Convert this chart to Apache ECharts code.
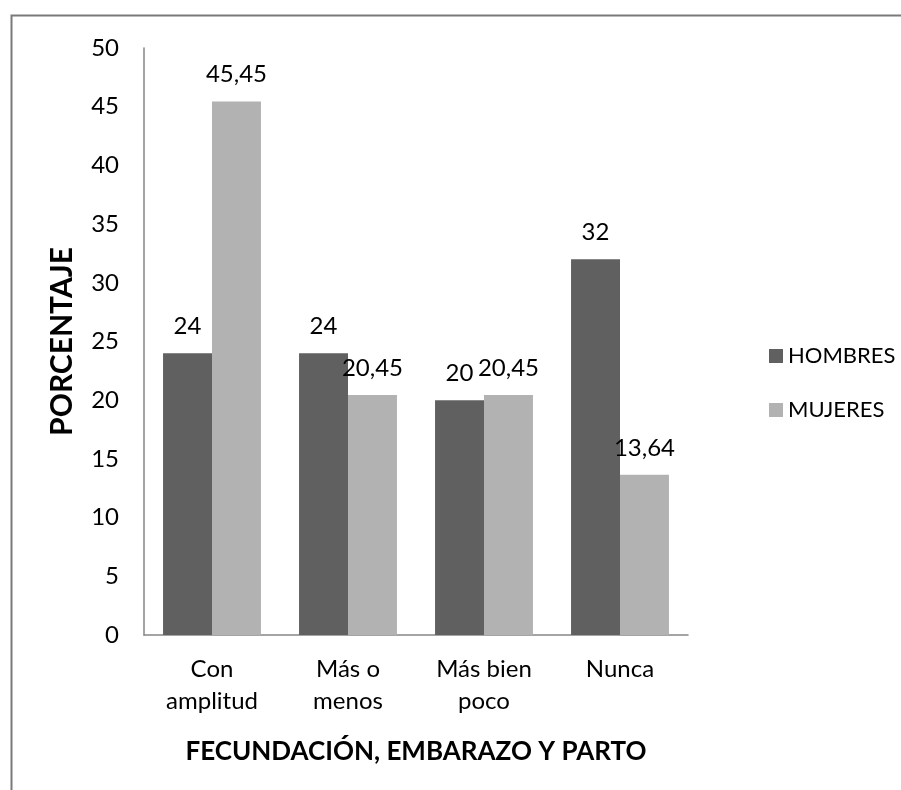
<!DOCTYPE html>
<html>
<head>
<meta charset="utf-8">
<script src="https://cdn.jsdelivr.net/npm/echarts@6/dist/echarts.min.js"></script>
<style>html,body{margin:0;padding:0;background:#fff;}#c{width:901px;height:790px;}</style>
</head>
<body>
<div id="c"></div>
<script>
const categories = ["Con\namplitud", "Más o\nmenos", "Más bien\npoco", "Nunca"];
const hombres = [24, 24, 20, 32];
const mujeres = [45.45, 20.45, 20.45, 13.64];
const seriesNames = ["HOMBRES", "MUJERES"];
const yTicks = { min: 0, max: 50, interval: 5 };

const FONT = 'Lato';
const chart = echarts.init(document.getElementById('c'));
const fmt = p => String(p.value).replace('.', ',');
const labelStyle = { show: true, position: 'top', distance: 15, fontSize: 24, color: '#000', fontFamily: FONT, formatter: fmt };

chart.setOption({
  animation: false,
  textStyle: { fontFamily: FONT },
  graphic: [{
    type: 'rect', left: 9, top: 13, shape: { width: 1000, height: 1000 },
    style: { fill: 'none', stroke: '#7a7a7a', lineWidth: 2 }, silent: true
  }],
  grid: { left: 144, top: 48, width: 544, bottom: 155, containLabel: false },
  legend: {
    orient: 'vertical', left: 764, top: 340, itemWidth: 14, itemHeight: 14, itemGap: 32,
    icon: 'rect', data: seriesNames,
    textStyle: { fontSize: 22, color: '#000', fontFamily: FONT }
  },
  xAxis: {
    type: 'category', data: categories,
    axisLine: { lineStyle: { color: '#868686', width: 1.5 } },
    axisTick: { show: false },
    axisLabel: { fontSize: 24, color: '#000', lineHeight: 32, margin: 18, fontFamily: FONT },
    name: 'FECUNDACIÓN, EMBARAZO Y PARTO', nameLocation: 'middle', nameGap: 104,
    nameTextStyle: { fontSize: 26, fontWeight: 'bold', color: '#000', fontFamily: FONT }
  },
  yAxis: {
    type: 'value', min: yTicks.min, max: yTicks.max, interval: yTicks.interval,
    axisLine: { show: true, lineStyle: { color: '#868686', width: 1.5 } },
    axisTick: { show: false },
    splitLine: { show: false },
    axisLabel: { fontSize: 24, color: '#000', margin: 25, fontFamily: FONT },
    name: 'PORCENTAJE', nameLocation: 'middle', nameGap: 67, nameRotate: 90,
    nameTextStyle: { fontSize: 30, fontWeight: 'bold', color: '#000', fontFamily: FONT }
  },
  series: [
    { name: seriesNames[0], type: 'bar', data: hombres, barGap: '0%', barCategoryGap: '28%',
      itemStyle: { color: '#606060' }, label: labelStyle },
    { name: seriesNames[1], type: 'bar', data: mujeres, barGap: '0%', barCategoryGap: '28%',
      itemStyle: { color: '#b2b2b2' }, label: labelStyle }
  ]
});
</script>
</body>
</html>
